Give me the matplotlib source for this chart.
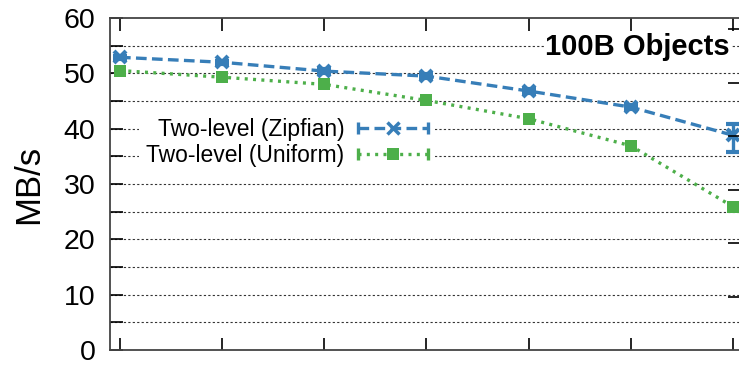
import numpy as np
import matplotlib
matplotlib.use("Agg")
import matplotlib.pyplot as plt
from matplotlib.lines import Line2D
from matplotlib.legend_handler import HandlerLine2D, HandlerTuple

plt.rcParams['font.family'] = ['Liberation Sans', 'DejaVu Sans']

# 读图估计的数据
x_pos = [0, 1, 2, 3, 4, 5, 6]
zipf = [52.9, 52.0, 50.4, 49.5, 46.8, 43.9, 38.8]
zipf_err_lo = [0.3, 0.3, 0.3, 0.3, 0.3, 0.3, 3.0]
zipf_err_hi = [0.3, 0.3, 0.3, 0.3, 0.3, 0.3, 2.0]
unif = [50.5, 49.3, 48.0, 45.1, 41.8, 36.9, 25.9]
unif_err = [0.3, 0.3, 0.4, 0.3, 0.3, 0.3, 0.4]
labels = ["Two-level (Zipfian)", "Two-level (Uniform)"]
title = "100B Objects"

blue = "#377eb8"
green = "#4daf4a"
ls_zipf = (0, (3.2, 1.6))
ls_unif = (0, (0.9, 1.6))

fig = plt.figure(figsize=(7.39, 3.67), dpi=100)
W, H = 739, 367
ax = fig.add_axes([110 / W, 1 - 350 / H, 630 / W, 332 / H])

# 虚线网格（每 5 一条）
for g in np.arange(5, 60, 5):
    ax.axhline(g, color="#333333", lw=0.8, ls=(0, (2, 2)), zorder=0)

ax.errorbar(x_pos, zipf, yerr=[zipf_err_lo, zipf_err_hi], color=blue, lw=2.4,
            ls=ls_zipf, marker="x", ms=9, mew=3, capsize=5, capthick=2.4,
            elinewidth=2.4, zorder=3)
ax.errorbar(x_pos, unif, yerr=unif_err, color=green, lw=2.4,
            ls=ls_unif, marker="s", ms=8, mew=0, capsize=4, capthick=2,
            elinewidth=2, zorder=3)

ax.set_xlim(-10 / 102.2, 6 + 7 / 102.2)
ax.set_ylim(0, 60)
ax.set_yticks(np.arange(0, 61, 10))
ax.set_yticks(np.arange(5, 60, 10), minor=True)
ax.set_xticks(x_pos)
ax.set_xticklabels([])
ax.tick_params(axis="y", which="both", direction="in", length=9, width=1.2,
               labelsize=20.5, pad=10.5)
ax.tick_params(axis="x", direction="in", length=9, width=1.2, top=True)
for s in ax.spines.values():
    s.set_linewidth(1.3)
    s.set_color("#444444")

# 右侧刻度（第二纵轴，标签被裁掉）
ax2 = ax.twinx()
ax2.set_ylim(0, 332 / 53.5)
ax2.set_yticks([1, 2, 3, 4, 5, 6])
ax2.set_yticklabels([])
ax2.tick_params(axis="y", direction="in", length=9, width=1.2)
for s in ax2.spines.values():
    s.set_visible(False)

ax.set_ylabel("MB/s", fontsize=25, labelpad=13)

# 图例：中间为标记，两端带误差线端帽
h_z = Line2D([], [], color=blue, lw=2.4, ls=ls_zipf, marker="x", ms=8, mew=2.5)
c_z = Line2D([], [], color=blue, ls="none", marker="|", ms=9, mew=2.4)
h_u = Line2D([], [], color=green, lw=2.4, ls=ls_unif, marker="s", ms=8, mew=0)
c_u = Line2D([], [], color=green, ls="none", marker="|", ms=9, mew=2.4)
leg = ax.legend([(h_z, c_z), (h_u, c_u)], labels, loc="center right",
                bbox_to_anchor=(0.534, 0.625), markerfirst=False, frameon=True,
                fontsize=16.5, handlelength=3.05, handletextpad=0.6,
                labelspacing=0.1, borderpad=0.3, numpoints=1,
                handler_map={tuple: HandlerTuple(ndivide=1),
                             c_z: HandlerLine2D(numpoints=2, marker_pad=0),
                             c_u: HandlerLine2D(numpoints=2, marker_pad=0)})
leg.get_frame().set_edgecolor("none")
leg.get_frame().set_facecolor("white")
leg.get_frame().set_alpha(1)

ax.text(0.984, 0.913, title, transform=ax.transAxes, ha="right", va="center",
        fontsize=21, fontweight="bold", zorder=5,
        bbox=dict(facecolor="white", edgecolor="none", pad=1))

fig.savefig("out.png", dpi=100)
